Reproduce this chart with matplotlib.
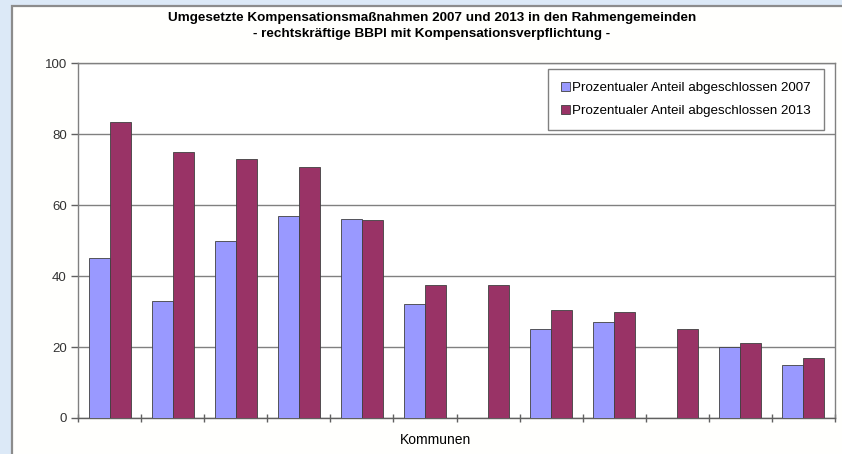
import numpy as np
import matplotlib
matplotlib.use('Agg')
import matplotlib.pyplot as plt
from matplotlib.patches import Rectangle

plt.rcParams['font.family'] = ['Liberation Sans', 'DejaVu Sans']

# data (12 Kommunen, no names shown)
kommunen = list(range(1, 13))
anteil_2007 = [45, 33, 50, 57, 56, 32, 0, 25, 27, 0, 20, 15]
anteil_2013 = [83.5, 75, 73, 70.8, 55.7, 37.5, 37.5, 30.5, 30, 25, 21, 17]
yticks = [0, 20, 40, 60, 80, 100]

label_2007 = 'Prozentualer Anteil abgeschlossen 2007'
label_2013 = 'Prozentualer Anteil abgeschlossen 2013'

fig = plt.figure(figsize=(8.42, 4.54), dpi=100)
fig.patch.set_facecolor('#dce9f7')

# white chart panel with grey frame
panel = Rectangle((12 / 842, -0.05), 1.0, 1 - 6 / 454 + 0.05, transform=fig.transFigure,
                  facecolor='#fffffd', edgecolor='#8c8c8c', linewidth=1.6, zorder=-10)
fig.patches.append(panel)

ax = fig.add_axes([78 / 842, 1 - 418 / 454, (835 - 78) / 842, (418 - 63) / 454])
ax.set_facecolor('white')
ax.set_zorder(5)

x = np.arange(len(kommunen))
w = 1 / 3
ax.bar(x - w / 2, anteil_2007, width=w, color='#9999ff', edgecolor='#404040',
       linewidth=0.6, label=label_2007, zorder=3)
ax.bar(x + w / 2, anteil_2013, width=w, color='#993366', edgecolor='#404040',
       linewidth=0.6, label=label_2013, zorder=3)

ax.set_xlim(-0.5, len(kommunen) - 0.5)
ax.set_ylim(0, 100)
ax.set_yticks(yticks)
ax.yaxis.grid(True, color='#808080', linewidth=1.0, zorder=1)
ax.set_axisbelow(True)

# ticks between the groups
ax.set_xticks(np.arange(len(kommunen) + 1) - 0.5)
ax.set_xticklabels([])
ax.tick_params(axis='x', direction='inout', length=6, color='#606060', width=1)
ax.tick_params(axis='y', direction='out', length=5, color='#606060', width=1,
               labelsize=9.5, labelcolor='#333333', pad=3)

for s in ['top', 'right', 'left', 'bottom']:
    ax.spines[s].set_color('#808080')
    ax.spines[s].set_linewidth(1.0)
ax.spines['bottom'].set_color('#606060')

leg = ax.legend(loc='upper right', bbox_to_anchor=(0.985, 0.982), fontsize=9.6,
                handlelength=0.7, handleheight=0.7, handletextpad=0.15,
                labelspacing=0.8, borderpad=0.95, borderaxespad=0, fancybox=False,
                edgecolor='#808080', framealpha=1)
leg.get_frame().set_linewidth(1.0)

fig.text(432 / 842, 1 - 18 / 454, 'Umgesetzte Kompensationsmaßnahmen 2007 und 2013 in den Rahmengemeinden',
         ha='center', va='center', fontsize=9.7, fontweight='bold')
fig.text(432 / 842, 1 - 34 / 454, '- rechtskräftige BBPl mit Kompensationsverpflichtung -',
         ha='center', va='center', fontsize=9.7, fontweight='bold')
fig.text(435 / 842, 1 - 440 / 454, 'Kommunen', ha='center', va='center', fontsize=10)

fig.savefig('out.png', dpi=100, facecolor=fig.get_facecolor())
